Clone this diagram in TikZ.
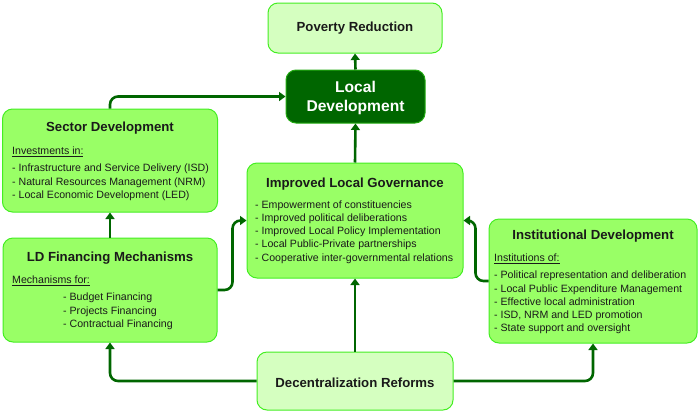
\documentclass[tikz,border=0pt]{standalone}
\usepackage{fontspec}
\setmainfont{Liberation Sans}
\usetikzlibrary{arrows.meta}
\definecolor{boxfill}{HTML}{99FF66}
\definecolor{boxline}{HTML}{44EE22}
\definecolor{palefill}{HTML}{D5FFC0}
\definecolor{darkg}{HTML}{006600}
\definecolor{txt}{HTML}{1A1A1A}
\begin{document}
\begin{tikzpicture}[x=1pt,y=-1pt,
  box/.style={draw=boxline,line width=1pt,fill=boxfill,rounded corners=10pt,inner sep=0pt},
  palebox/.style={box,fill=palefill},
  darkbox/.style={box,fill=darkg,draw=boxline!50!darkg},
  ttl/.style={font=\bfseries\fontsize{13.2}{15}\selectfont,text=txt,inner sep=0pt},
  itm/.style={font=\fontsize{10.6}{13.2}\selectfont,text=txt,inner sep=0pt,anchor=west,align=left},
  conn/.style={draw=darkg,line width=2.6pt,rounded corners=8pt,-{Triangle[width=9pt,length=6.5pt]}}]
\useasboundingbox (0,0) rectangle (698,413);
% boxes
\node[palebox,minimum width=174pt,minimum height=50pt] (pr) at (355,28) {};
\node[darkbox,minimum width=139pt,minimum height=53pt] (ld) at (355.5,96.5) {};
\node[box,minimum width=215pt,minimum height=103pt] (sd) at (110,160.5) {};
\node[box,minimum width=214pt,minimum height=104pt] (ldf) at (110,290) {};
\node[box,minimum width=216pt,minimum height=115pt] (ilg) at (355,220.5) {};
\node[box,minimum width=208pt,minimum height=124pt] (inst) at (593,281) {};
\node[palebox,minimum width=196pt,minimum height=58pt] (dr) at (355,381) {};
% texts
\node[ttl] (prt) at (355,28.5) {Poverty Reduction};
\node[font=\bfseries\fontsize{15.6}{19}\selectfont,text=white,align=center,inner sep=0pt] (ldt) at (355.5,98) {Local\\Development};
\node[ttl] (sdt) at (110,128.5) {Sector Development};
\node[itm] (sdu) at (12,152) {\underline{Investments in:}};
\node[itm,anchor=north west] (sdi) at (12,164) {- Infrastructure and Service Delivery (ISD)\\- Natural Resources Management (NRM)\\- Local Economic Development (LED)};
\node[ttl] (ldft) at (110,258) {LD Financing Mechanisms};
\node[itm] (ldfu) at (12,281) {\underline{Mechanisms for:}};
\node[itm,anchor=north west] (ldfi) at (63,293) {- Budget Financing\\- Projects Financing\\- Contractual Financing};
\node[ttl] (ilgt) at (355,184) {Improved Local Governance};
\node[itm,anchor=north west] (ilgi) at (255,200.5) {- Empowerment of constituencies\\- Improved political deliberations\\- Improved Local Policy Implementation\\- Local Public-Private partnerships\\- Cooperative inter-governmental relations};
\node[ttl] (instt) at (593,236) {Institutional Development};
\node[itm] (instu) at (494,259) {\underline{Institutions of:}};
\node[itm,anchor=north west] (insti) at (494,271) {- Political representation and deliberation\\- Local Public Expenditure Management\\- Effective local administration\\- ISD, NRM and LED promotion\\- State support and oversight};
\node[ttl] (drt) at (355,382.5) {Decentralization Reforms};
% connectors
\draw[conn] (ld.north) -- (pr.south);
\draw[conn] (ilg.north) -- (ld.south);
\draw[conn] (sd.north) |- (ld.west);
\draw[conn] (ldf.north) -- (sd.south);
\draw[conn] (ldf.east) -- ++(15,0) |- (ilg.west);
\draw[conn] (inst.west) -- ++(-13,0) |- (ilg.east);
\draw[conn] (dr.north) -- (ilg.south);
\draw[conn] (dr.west) -| (ldf.south);
\draw[conn] (dr.east) -| (inst.south);
\end{tikzpicture}
\end{document}
